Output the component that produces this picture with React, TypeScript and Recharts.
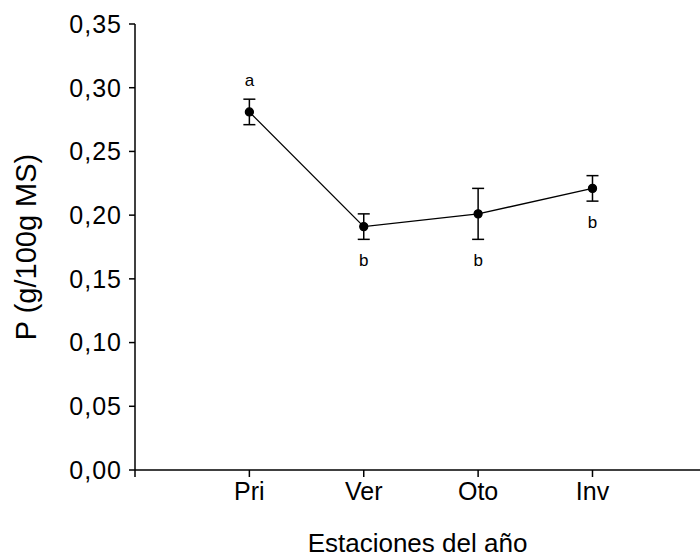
import { LineChart, Line, XAxis, YAxis, ErrorBar, LabelList } from "recharts";

const seasons = ["Pri", "Ver", "Oto", "Inv"];
const pValues = [0.281, 0.191, 0.201, 0.221];
const pErrors = [0.01, 0.01, 0.02, 0.01];
const letters = ["a", "b", "b", "b"];
const letterSide = ["top", "bottom", "bottom", "bottom"];
const yTicks = [0, 0.05, 0.1, 0.15, 0.2, 0.25, 0.3, 0.35];
const xTicks = [0, 1, 2, 3, 4];

const data = seasons.map((s, i) => ({ x: i + 1, name: s, p: pValues[i], err: pErrors[i], letter: letters[i] }));

const TOP = 24;
const BOTTOM = 470;
const Y_MAX = 0.35;
const pxPerUnit = (BOTTOM - TOP) / Y_MAX;
const font = "Arial, 'Liberation Sans', sans-serif";

function LetterLabel(props: any) {
  const { x, y, index, value } = props;
  const errPx = pErrors[index] * pxPerUnit;
  const above = letterSide[index] === "top";
  const ly = above ? y - errPx - 19 : y + errPx + 21;
  return (
    <text x={x} y={ly} textAnchor="middle" dominantBaseline="central" fontSize={17} fontFamily={font} fill="#000">
      {value}
    </text>
  );
}

export default function App() {
  return (
    <div style={{ position: "absolute", left: 0, top: 0, width: 700, height: 560, background: "#fff" }}>
      <LineChart width={700} height={560} data={data} margin={{ top: TOP, right: 0, bottom: 0, left: 0 }}>
        <XAxis
          dataKey="x"
          type="number"
          domain={[0, 4.94]}
          ticks={xTicks}
          allowDataOverflow
          tickFormatter={(v) => (v >= 1 ? seasons[v - 1] : "")}
          height={90}
          tickSize={7}
          tickMargin={5}
          stroke="#000"
          strokeWidth={1.5}
          tick={{ fill: "#000", fontSize: 25, fontFamily: font }}
          label={{ value: "Estaciones del año", position: "insideBottom", offset: 8, fill: "#000", fontSize: 26, fontFamily: font }}
        />
        <YAxis
          type="number"
          domain={[0, Y_MAX]}
          ticks={yTicks}
          width={135}
          tickSize={6}
          tickMargin={7}
          stroke="#000"
          strokeWidth={1.5}
          tickFormatter={(v) => v.toFixed(2).replace(".", ",")}
          tick={{ fill: "#000", fontSize: 25, fontFamily: font, letterSpacing: 1 }}
          label={{ value: "P (g/100g MS)", angle: -90, position: "insideLeft", offset: 26, fill: "#000", fontSize: 29, fontFamily: font, style: { textAnchor: "middle" } }}
        />
        <Line
          dataKey="p"
          stroke="#000"
          strokeWidth={1.3}
          dot={{ r: 4, fill: "#000", stroke: "#000" }}
          isAnimationActive={false}
        >
          <ErrorBar dataKey="err" width={6} stroke="#000" strokeWidth={1.5} direction="y" />
          <LabelList dataKey="letter" content={LetterLabel} />
        </Line>
      </LineChart>
    </div>
  );
}
